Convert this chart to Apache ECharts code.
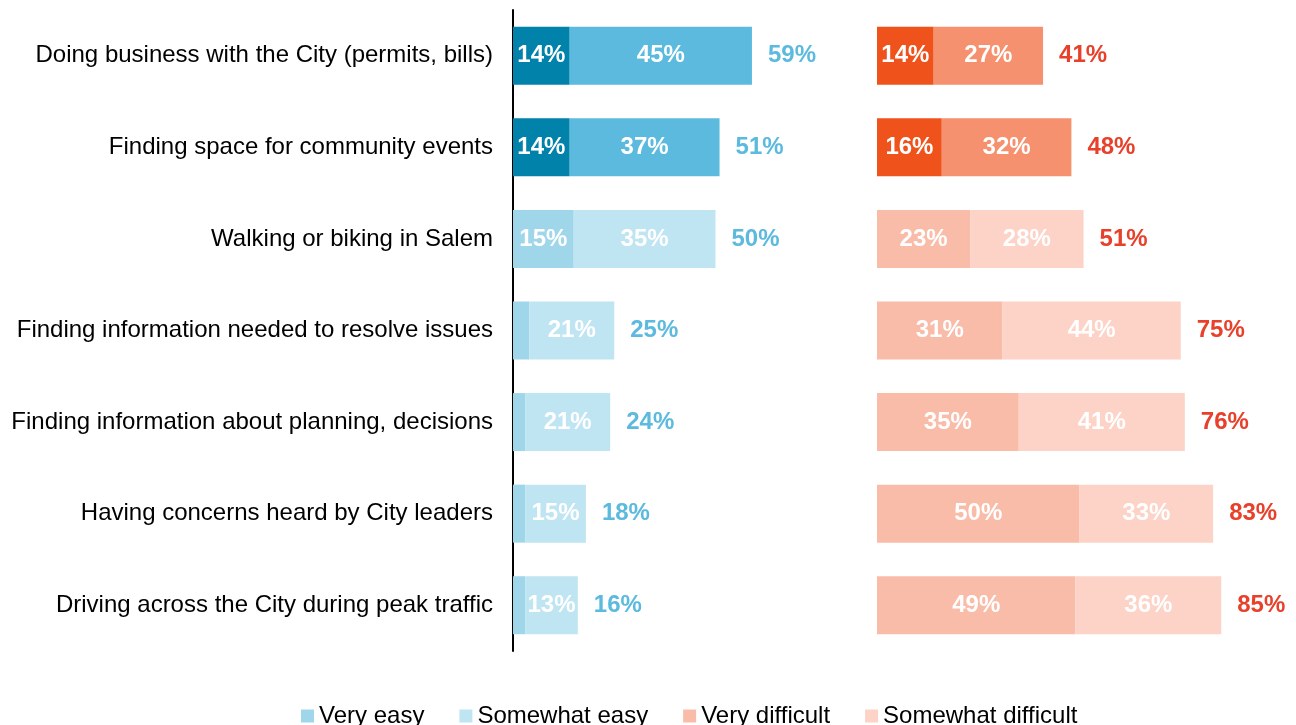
<!DOCTYPE html>
<html>
<head>
<meta charset="utf-8">
<script src="https://cdn.jsdelivr.net/npm/echarts@6/dist/echarts.min.js"></script>
<style>
  html, body { margin: 0; padding: 0; background: #fff; }
  #chart { width: 1296px; height: 725px; }
</style>
</head>
<body>
<div id="chart"></div>
<script>
const categories = [
  "Doing business with the City (permits, bills)",
  "Finding space for community events",
  "Walking or biking in Salem",
  "Finding information needed to resolve issues",
  "Finding information about planning, decisions",
  "Having concerns heard by City leaders",
  "Driving across the City during peak traffic",
];
const veryEasy = [14, 14, 15, 4, 3, 3, 3];
const somewhatEasy = [45, 37, 35, 21, 21, 15, 13];
const easyTotal = [59, 51, 50, 25, 24, 18, 16];
const veryDifficult = [14, 16, 23, 31, 35, 50, 49];
const somewhatDifficult = [27, 32, 28, 44, 41, 33, 36];
const difficultTotal = [41, 48, 51, 75, 76, 83, 85];
// first two rows are highlighted in stronger colors
const highlightRows = 2;

var chart = echarts.init(document.getElementById("chart"));
const font = "Liberation Sans, Arial";

function colored(values, strong, light) {
  return values.map((v, i) => ({
    value: v,
    itemStyle: { color: i < highlightRows ? strong : light },
  }));
}

const barLabel = {
  show: true,
  position: "inside",
  color: "#ffffff",
  fontWeight: "bold",
  fontSize: 24,
  fontFamily: font,
  formatter: (p) => (p.value >= 8 ? p.value + "%" : ""),
};

function totalSeries(values, axisIndex, color) {
  return {
    type: "scatter",
    xAxisIndex: axisIndex,
    yAxisIndex: axisIndex,
    symbolSize: 0,
    silent: true,
    itemStyle: { opacity: 1 },
    data: values.map((v, i) => [v, i]),
    label: {
      show: true,
      position: "right",
      distance: 16,
      color: color,
      opacity: 1,
      fontWeight: "bold",
      fontSize: 24,
      fontFamily: font,
      formatter: (p) => p.value[0] + "%",
    },
  };
}

var option = {
  backgroundColor: "#ffffff",
  animation: false,
  textStyle: { fontFamily: font },
  legend: {
    data: ["Very easy", "Somewhat easy", "Very difficult", "Somewhat difficult"],
    top: 699,
    left: 296,
    itemWidth: 13,
    itemHeight: 13,
    itemGap: 35,
    icon: "rect",
    textStyle: { fontSize: 24, color: "#000000", fontFamily: font },
  },
  grid: [
    { left: 513, width: 405, top: 10, bottom: 74 },
    { left: 877, width: 405, top: 10, bottom: 74 },
  ],
  xAxis: [
    { gridIndex: 0, type: "value", min: 0, max: 100, show: false },
    { gridIndex: 1, type: "value", min: 0, max: 100, show: false },
  ],
  yAxis: [
    {
      gridIndex: 0,
      type: "category",
      data: categories,
      inverse: true,
      axisLine: { show: true, lineStyle: { color: "#000000", width: 2 } },
      axisTick: { show: false },
      axisLabel: { fontSize: 24, color: "#000000", margin: 20, fontFamily: font },
    },
    {
      gridIndex: 1,
      type: "category",
      data: categories,
      inverse: true,
      show: false,
    },
  ],
  series: [
    {
      name: "Very easy",
      type: "bar",
      stack: "easy",
      barWidth: 58,
      itemStyle: { color: "#A0D6EA" },
      data: colored(veryEasy, "#0082AA", "#A0D6EA"),
      label: barLabel,
    },
    {
      name: "Somewhat easy",
      type: "bar",
      stack: "easy",
      barWidth: 58,
      itemStyle: { color: "#BFE5F2" },
      data: colored(somewhatEasy, "#5BBADE", "#BFE5F2"),
      label: barLabel,
    },
    {
      name: "Very difficult",
      type: "bar",
      stack: "difficult",
      xAxisIndex: 1,
      yAxisIndex: 1,
      barWidth: 58,
      itemStyle: { color: "#F9BCA8" },
      data: colored(veryDifficult, "#F0521B", "#F9BCA8"),
      label: barLabel,
    },
    {
      name: "Somewhat difficult",
      type: "bar",
      stack: "difficult",
      xAxisIndex: 1,
      yAxisIndex: 1,
      barWidth: 58,
      itemStyle: { color: "#FCD3C6" },
      data: colored(somewhatDifficult, "#F5916E", "#FCD3C6"),
      label: barLabel,
    },
    totalSeries(easyTotal, 0, "#5BBADE"),
    totalSeries(difficultTotal, 1, "#E8402A"),
  ],
};
option && chart.setOption(option);
</script>
</body>
</html>
